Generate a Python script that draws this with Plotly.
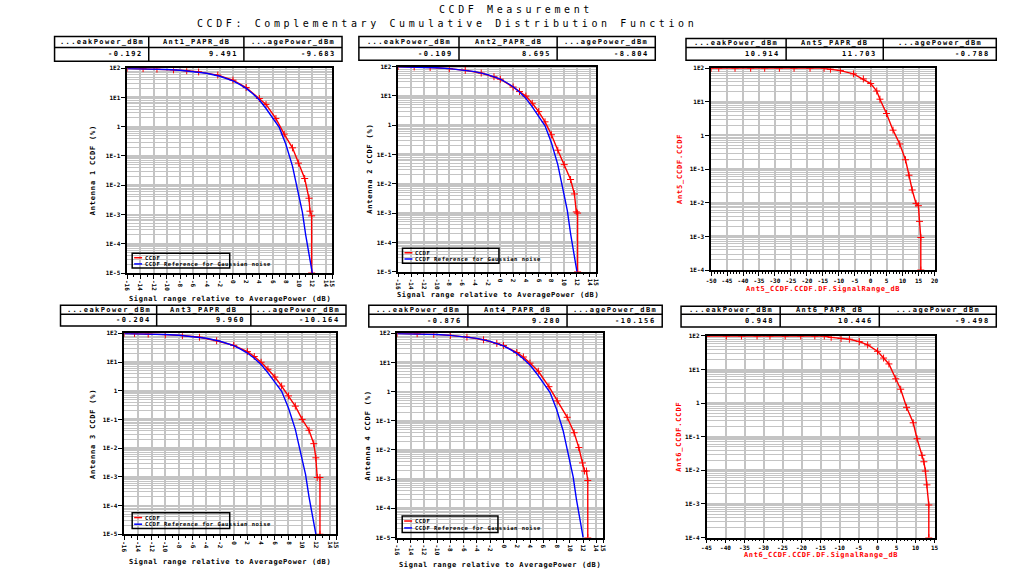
import plotly.graph_objects as go

W, H = 1031, 582

# ---------------- data ----------------
gauss_db = [-16, -14, -12, -10, -8, -6, -4, -2, 0, 1, 2, 3, 4, 5, 6, 7, 8, 9, 10, 10.5, 11, 11.5, 12]
gauss_pct = [97.5, 96, 94, 90.5, 85, 77.5, 67, 53, 37, 28, 20.5, 13.5, 8.2, 4.2, 1.9, 0.95, 0.25,
             0.045, 0.004, 0.0012, 0.0002, 4e-5, 1e-5]

ant1_db = [-16, -13.6, -11.5, -9, -7, -5.2, -2.3, 0, 2, 4, 5, 6.5, 7.75, 9, 9.9, 10.85, 11.5, 11.65, 11.9, 11.9]
ant1_pct = [100, 97, 93, 88, 82, 75, 58, 39, 22, 9.2, 5.8, 1.9, 0.56, 0.19, 0.057, 0.017, 0.0036,
            0.0013, 0.0009, 1e-5]

ant2_db = [-16, -13.5, -11, -8, -5.5, -3, -1, 0, 2, 3, 4, 5, 6, 7, 8, 9, 10, 11, 11.6, 11.9, 12.1, 12.1]
ant2_pct = [100, 97, 93, 85, 74, 60, 45, 37, 20, 14, 9.8, 5.6, 2.9, 1.3, 0.47, 0.14, 0.045, 0.014,
            0.0045, 0.0011, 0.001, 1e-5]

ant3_db = [-16, -14.5, -12.5, -10, -7.5, -5, -2.5, 0, 2, 3, 4, 5, 6, 7, 8, 9, 10, 11, 11.7, 12.0,
           12.2, 12.6, 12.6]
ant3_pct = [100, 99, 94, 90, 84, 73, 55, 38, 23, 15.5, 9.8, 5.6, 3.0, 1.45, 0.66, 0.29, 0.1, 0.042,
            0.0143, 0.0046, 0.00095, 0.00095, 1e-5]

ant4_db = [-16, -13, -10.5, -8, -5.5, -3, -1, 0, 2, 3, 4, 5.25, 6.85, 8.1, 9.6, 10.65, 11.35, 11.9,
           12.2, 12.5, 12.7, 12.7]
ant4_pct = [100, 97, 92, 85, 74, 60, 45, 38, 22, 15.4, 9.5, 5.0, 1.48, 0.48, 0.132, 0.039, 0.0121,
            0.0036, 0.0019, 0.0019, 0.0009, 1e-5]

ant5_db = [-50, -47.6, -42.5, -37.6, -33.2, -28.6, -24, -19, -14.6, -12.6, -9.5, -5.4, -2.3, 0, 1.9,
           2.9, 4.95, 7, 9.1, 10.9, 12, 13, 14.2, 14.95, 15.3, 15.7, 15.7]
ant5_pct = [100, 100, 100, 100, 100, 100, 100, 100, 100, 93.5, 85, 68, 48, 35, 21, 12, 4.5, 1.44,
            0.56, 0.19, 0.066, 0.024, 0.0096, 0.0082, 0.0028, 0.00093, 1e-4]

ant6_db = [-45, -39.8, -35.8, -31.7, -28.3, -24.3, -20.2, -16.5, -14, -12.2, -9.6, -7.4, -4.8, -2.6,
           0, 1.6, 3.0, 4.8, 6.1, 7.65, 9.4, 10.4, 11.7, 12.2, 12.6, 13.0, 13.5, 13.5]
ant6_pct = [100, 100, 100, 100, 100, 100, 100, 100, 100, 91, 84, 80, 68, 54, 35, 22, 14.7, 5.3, 2.6,
            0.75, 0.26, 0.087, 0.028, 0.018, 0.0095, 0.0037, 0.00093, 1e-4]

table_headers = [
    ["...eakPower_dBm", "Ant1_PAPR_dB", "...agePower_dBm"],
    ["...eakPower_dBm", "Ant2_PAPR_dB", "...agePower_dBm"],
    ["...eakPower_dBm", "Ant5_PAPR_dB", "...agePower_dBm"],
    ["...eakPower_dBm", "Ant3_PAPR_dB", "...agePower_dBm"],
    ["...eakPower_dBm", "Ant4_PAPR_dB", "...agePower_dBm"],
    ["...eakPower_dBm", "Ant6_PAPR_dB", "...agePower_dBm"],
]
table_values = [
    ["-0.192", "9.491", "-9.683"],
    ["-0.109", "8.695", "-8.804"],
    ["10.914", "11.703", "-0.788"],
    ["-0.204", "9.960", "-10.164"],
    ["-0.876", "9.280", "-10.156"],
    ["0.948", "10.446", "-9.498"],
]

ytitles = ["Antenna 1 CCDF (%)", "Antenna 2 CCDF (%)", "Ant5_CCDF.CCDF",
           "Antenna 3 CCDF (%)", "Antenna 4 CCDF (%)", "Ant6_CCDF.CCDF"]
xtitles = ["Signal range relative to AveragePower (dB)"] * 2 + ["Ant5_CCDF.CCDF.DF.SignalRange_dB"] + \
          ["Signal range relative to AveragePower (dB)"] * 2 + ["Ant6_CCDF.CCDF.DF.SignalRange_dB"]

# ---------------- layout helpers ----------------
def px(x):
    return x / W

def py(y):
    return 1 - y / H

def spaced(txt, ls):
    return '<span style="letter-spacing:%.2fpx">%s</span>' % (ls, txt)

MONO = "DejaVu Sans Mono"
RED = "#ff0000"
BLUE = "#0000ff"
GRID = "#c4c4c4"

# plot rectangles in pixels: x0, x1, y0(top), y1(bottom)
rects = [
    (123.3, 330.0, 65.0, 272.3),
    (396.7, 596.3, 63.3, 271.0),
    (712.3, 937.7, 65.0, 269.3),
    (120.3, 334.3, 333.3, 536.7),
    (395.7, 603.3, 333.3, 540.0),
    (707.7, 937.7, 336.0, 540.0),
]
xranges = [(-16, 15), (-16, 15), (-50, 20), (-16, 15), (-16, 15), (-45, 15)]
ydecades = [(-5, 2), (-5, 2), (-4, 2), (-5, 2), (-5, 2), (-4, 2)]

def dec_label(e):
    if e == 0:
        return "1"
    return "1E%d" % e

fig = go.Figure()

series = [
    (ant1_db, ant1_pct, True),
    (ant2_db, ant2_pct, True),
    (ant5_db, ant5_pct, False),
    (ant3_db, ant3_pct, True),
    (ant4_db, ant4_pct, True),
    (ant6_db, ant6_pct, False),
]

layout = {}
for i, (r, xr, yd, s) in enumerate(zip(rects, xranges, ydecades, series), start=1):
    x0, x1, y0, y1 = r
    sx = "" if i == 1 else str(i)
    dbs, pcts, has_ref = s
    fig.add_trace(go.Scatter(
        x=dbs, y=pcts, xaxis="x" + sx, yaxis="y" + sx, mode="lines+markers",
        line=dict(color=RED, width=1.4),
        marker=dict(symbol="cross-thin", size=5, line=dict(color=RED, width=1)),
        showlegend=False, hoverinfo="skip"))
    if has_ref:
        fig.add_trace(go.Scatter(
            x=gauss_db, y=gauss_pct, xaxis="x" + sx, yaxis="y" + sx, mode="lines",
            line=dict(color=BLUE, width=1.4), showlegend=False, hoverinfo="skip"))

    if xr[0] == -16:
        tv = list(range(-16, 15, 2)) + [15]
        angle = 90
    else:
        tv = list(range(xr[0], xr[1] + 1, 5))
        angle = 0
    tt = [str(v) for v in tv]
    layout["xaxis" + sx] = dict(
        domain=[px(x0), px(x1)], anchor="y" + sx, range=list(xr),
        tickmode="array", tickvals=tv, ticktext=tt, tickangle=angle,
        tickfont=dict(family=MONO, size=6, color="black", weight="bold"),
        ticks="outside", ticklen=4, tickwidth=1, tickcolor="black",
        showline=True, linecolor="black", linewidth=1.5, mirror=True,
        showgrid=True, gridcolor=GRID, gridwidth=1.5, zeroline=False,
        minor=dict(dtick=1, ticks="outside", ticklen=2, tickcolor="black", showgrid=False),
    )
    e0, e1 = yd
    ytv = [10 ** e for e in range(e0, e1 + 1)]
    ytt = [dec_label(e) for e in range(e0, e1 + 1)]
    ymin = [k * 10 ** e for e in range(e0, e1) for k in range(2, 10)]
    layout["yaxis" + sx] = dict(
        domain=[py(y1), py(y0)], anchor="x" + sx, type="log", range=[e0, e1],
        tickmode="array", tickvals=ytv, ticktext=ytt,
        tickfont=dict(family=MONO, size=6, color="black", weight="bold"),
        ticks="outside", ticklen=4, tickwidth=1, tickcolor="black",
        showline=True, linecolor="black", linewidth=1.5, mirror=True,
        showgrid=True, gridcolor=GRID, gridwidth=2, zeroline=False,
        minor=dict(tickmode="array", tickvals=ymin, showgrid=True, gridcolor=GRID,
                   gridwidth=1, ticks=""),
    )

# ---------------- annotations and shapes ----------------
annotations = []
shapes = []

annotations.append(dict(text=spaced("CCDF Measurement", 3.6), x=px(516), y=py(6), xref="paper",
                        yref="paper", showarrow=False, xanchor="center", yanchor="middle",
                        font=dict(family=MONO, size=10, color="black")))
annotations.append(dict(text=spaced("CCDF: Complementary Cumulative Distribution Function", 3.6),
                        x=px(446), y=py(19.5), xref="paper", yref="paper", showarrow=False,
                        xanchor="center", yanchor="middle",
                        font=dict(family=MONO, size=10, color="black")))

# tables: x0, col1, col2, x1, ytop, ysep, ybottom
tables = [
    (50, 145, 241, 340, 33, 44, 58),
    (357, 458, 557, 656, 33, 44, 57),
    (687, 788, 886, 1000, 35, 44, 57),
    (56, 153, 248, 344, 305, 314, 326),
    (367, 467, 567, 663, 305, 314, 327),
    (682, 782, 882, 1000, 306, 314, 327),
]
for (tx0, c1, c2, tx1, ty0, tys, ty1), hdr, vals in zip(tables, table_headers, table_values):
    line = dict(color="black", width=1.5)
    shapes.append(dict(type="rect", xref="paper", yref="paper", x0=px(tx0), x1=px(tx1), y0=py(ty1),
                       y1=py(ty0), line=line))
    for cx in (c1, c2):
        shapes.append(dict(type="line", xref="paper", yref="paper", x0=px(cx), x1=px(cx), y0=py(ty1),
                           y1=py(ty0), line=line))
    shapes.append(dict(type="line", xref="paper", yref="paper", x0=px(tx0), x1=px(tx1), y0=py(tys),
                       y1=py(tys), line=line))
    edges = [tx0, c1, c2, tx1]
    for k in range(3):
        annotations.append(dict(text=spaced(hdr[k], 1.4), x=px((edges[k] + edges[k + 1]) / 2),
                                y=py((ty0 + tys) / 2), xref="paper", yref="paper", showarrow=False,
                                xanchor="center", yanchor="middle",
                                font=dict(family=MONO, size=7, color="black", weight="bold")))
        annotations.append(dict(text=spaced(vals[k], 1.6), x=px(edges[k + 1] - 4), y=py((tys + ty1) / 2),
                                xref="paper", yref="paper", showarrow=False, xanchor="right",
                                yanchor="middle",
                                font=dict(family=MONO, size=7, color="black", weight="bold")))

# axis titles
ytitle_pos = [(89, 168), (368, 167), (681, 167), (89, 435), (366, 437), (680, 438)]
xtitle_pos = [(227, 299), (497, 295), (825, 288), (227, 565), (499, 568), (823, 558)]
for i in range(6):
    col = RED if i in (2, 5) else "black"
    annotations.append(dict(text=spaced(ytitles[i], 0.8), x=px(ytitle_pos[i][0]), y=py(ytitle_pos[i][1]),
                            xref="paper", yref="paper", showarrow=False, textangle=-90,
                            xanchor="center", yanchor="middle",
                            font=dict(family=MONO, size=7, color=col, weight="bold")))
    annotations.append(dict(text=spaced(xtitles[i], 0.6), x=px(xtitle_pos[i][0]), y=py(xtitle_pos[i][1]),
                            xref="paper", yref="paper", showarrow=False,
                            xanchor="center", yanchor="middle",
                            font=dict(family=MONO, size=7, color=col, weight="bold")))

# legends (box, sample lines, labels)
legend_boxes = [(128.3, 226.7, 252.3, 267.3), (401, 498.3, 247.3, 262.3),
                (128.3, 226.7, 515, 531), (400.7, 497.3, 518.3, 535)]
for (lx0, lx1, ly0, ly1) in legend_boxes:
    shapes.append(dict(type="rect", xref="paper", yref="paper", x0=px(lx0), x1=px(lx1), y0=py(ly1),
                       y1=py(ly0), line=dict(color="black", width=1.5)))
    rows = [(ly0 + (ly1 - ly0) * 0.3, "CCDF", RED),
            (ly0 + (ly1 - ly0) * 0.72, "CCDF Reference for Gaussian noise", BLUE)]
    for yy, txt, col in rows:
        shapes.append(dict(type="line", xref="paper", yref="paper", x0=px(lx0 + 2), x1=px(lx0 + 10),
                           y0=py(yy), y1=py(yy), line=dict(color=col, width=1.5)))
        annotations.append(dict(text=spaced(txt, 0.5), x=px(lx0 + 11), y=py(yy), xref="paper",
                                yref="paper", showarrow=False, xanchor="left", yanchor="middle",
                                font=dict(family=MONO, size=5.5, color="black", weight="bold")))

layout.update(dict(
    width=W, height=H, margin=dict(l=0, r=0, t=0, b=0), autosize=False,
    paper_bgcolor="white", plot_bgcolor="white", showlegend=False,
    annotations=annotations, shapes=shapes,
))
fig.update_layout(**layout)
fig.write_html("out.html")
